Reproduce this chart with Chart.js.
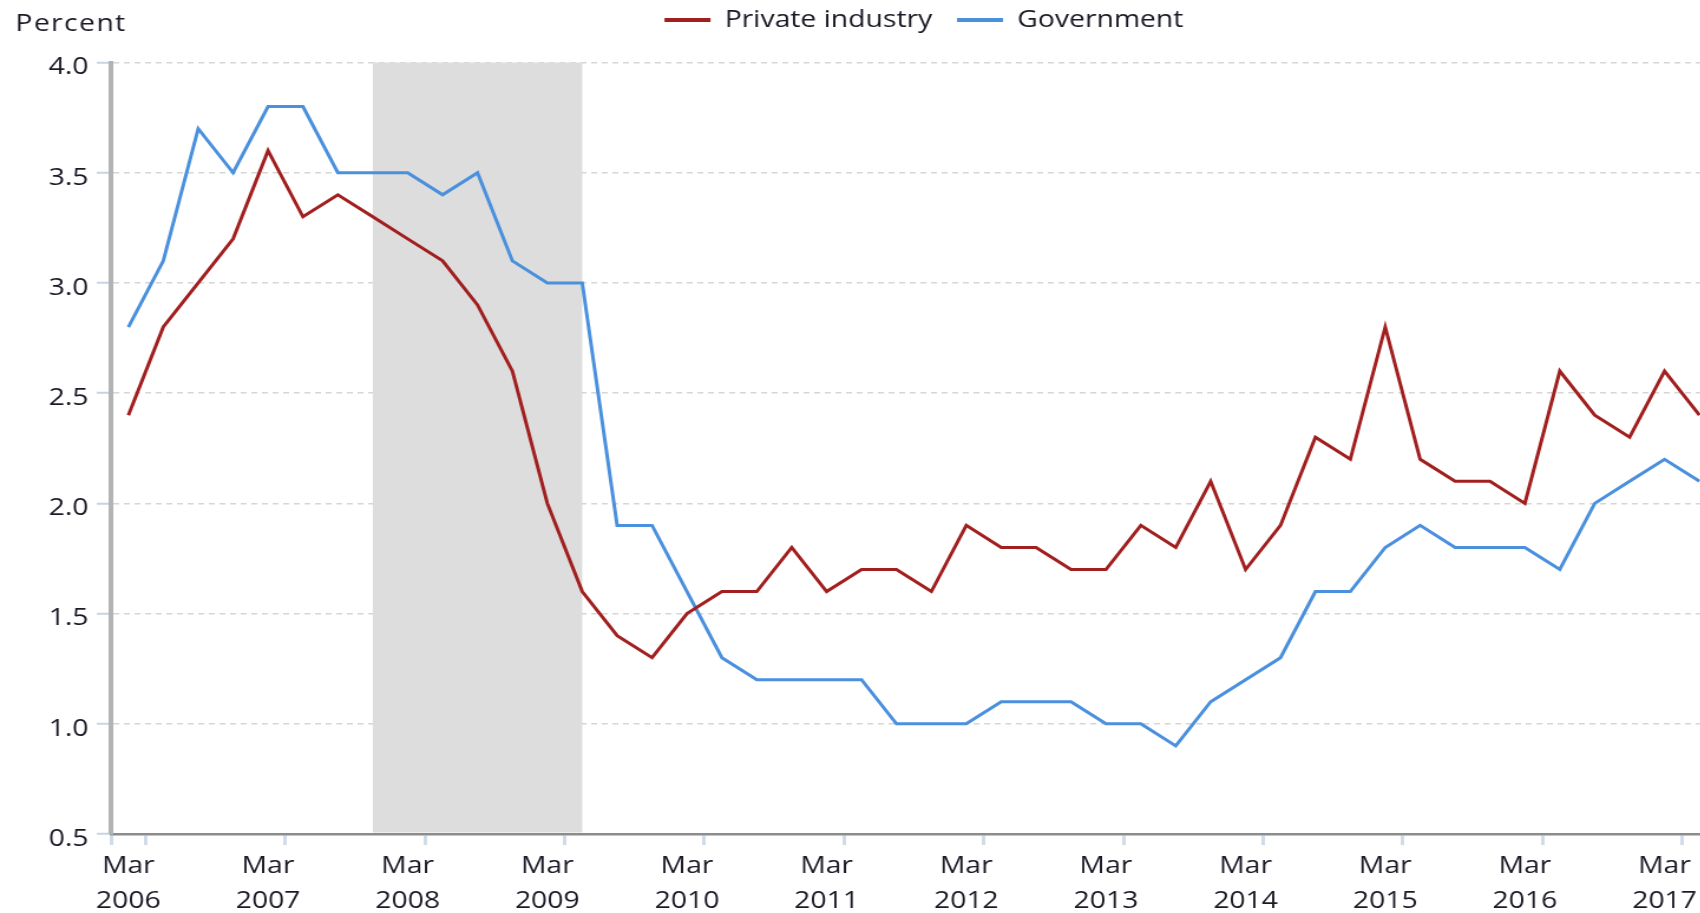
<!DOCTYPE html>
<html lang="en">
<head>
<meta charset="UTF-8">
<title>Private industry and Government</title>
<script src="https://cdn.jsdelivr.net/npm/chart.js@4.4.1/dist/chart.umd.min.js"></script>
<style>
    html, body {
        margin: 0;
        padding: 0;
        background: #fff;
        overflow: hidden;
    }
    /* the source picture is stretched sideways, so the whole chart is too */
    .stretch {
        width: 1455px;
        height: 913px;
        transform: scaleX(1.18);
        transform-origin: 0 0;
    }
</style>
</head>
<body>
<div class="stretch"><canvas id="chart" width="1455" height="913"></canvas></div>

<script>
const quarters = [
    'Mar 2006', 'Jun 2006', 'Sep 2006', 'Dec 2006',
    'Mar 2007', 'Jun 2007', 'Sep 2007', 'Dec 2007',
    'Mar 2008', 'Jun 2008', 'Sep 2008', 'Dec 2008',
    'Mar 2009', 'Jun 2009', 'Sep 2009', 'Dec 2009',
    'Mar 2010', 'Jun 2010', 'Sep 2010', 'Dec 2010',
    'Mar 2011', 'Jun 2011', 'Sep 2011', 'Dec 2011',
    'Mar 2012', 'Jun 2012', 'Sep 2012', 'Dec 2012',
    'Mar 2013', 'Jun 2013', 'Sep 2013', 'Dec 2013',
    'Mar 2014', 'Jun 2014', 'Sep 2014', 'Dec 2014',
    'Mar 2015', 'Jun 2015', 'Sep 2015', 'Dec 2015',
    'Mar 2016', 'Jun 2016', 'Sep 2016', 'Dec 2016',
    'Mar 2017', 'Jun 2017'
];

const privateIndustry = [
    2.4, 2.8, 3.0, 3.2,
    3.6, 3.3, 3.4, 3.3,
    3.2, 3.1, 2.9, 2.6,
    2.0, 1.6, 1.4, 1.3,
    1.5, 1.6, 1.6, 1.8,
    1.6, 1.7, 1.7, 1.6,
    1.9, 1.8, 1.8, 1.7,
    1.7, 1.9, 1.8, 2.1,
    1.7, 1.9, 2.3, 2.2,
    2.8, 2.2, 2.1, 2.1,
    2.0, 2.6, 2.4, 2.3,
    2.6, 2.4
];

const government = [
    2.8, 3.1, 3.7, 3.5,
    3.8, 3.8, 3.5, 3.5,
    3.5, 3.4, 3.5, 3.1,
    3.0, 3.0, 1.9, 1.9,
    1.6, 1.3, 1.2, 1.2,
    1.2, 1.2, 1.0, 1.0,
    1.0, 1.1, 1.1, 1.1,
    1.0, 1.0, 0.9, 1.1,
    1.2, 1.3, 1.6, 1.6,
    1.8, 1.9, 1.8, 1.8,
    1.8, 1.7, 2.0, 2.1,
    2.2, 2.1
];

// shaded recession band
const recession = ['Dec 2007', 'Jun 2009'];

const textColor = '#1a1a26';
const fontFamily = "'Open Sans', sans-serif";

// legend row sits a bit right of centre, plot starts well below it
const legendSpacing = {
    id: 'legendSpacing',
    beforeInit(chart) {
        const fit = chart.legend.fit;
        chart.legend.fit = function () {
            fit.call(this);
            this.height = 75.5;
        };
    },
    afterLayout(chart) {
        chart.legend.left += 8.5;
        chart.legend.right += 8.5;
    }
};

const recessionShade = {
    id: 'recessionShade',
    beforeDatasetsDraw(chart) {
        const {ctx, chartArea, scales: {x}} = chart;
        const x0 = x.getPixelForValue(quarters.indexOf(recession[0]));
        const x1 = x.getPixelForValue(quarters.indexOf(recession[1]));
        ctx.save();
        ctx.fillStyle = '#dddddd';
        ctx.fillRect(x0, chartArea.top, x1 - x0, chartArea.bottom - chartArea.top - 1.5);
        ctx.restore();
    }
};

const unitLabel = {
    id: 'unitLabel',
    afterDraw(chart) {
        const ctx = chart.ctx;
        ctx.save();
        ctx.font = '24px ' + fontFamily;
        ctx.letterSpacing = '1.2px';
        ctx.fillStyle = textColor;
        ctx.textBaseline = 'alphabetic';
        ctx.textAlign = 'left';
        ctx.fillText('Percent', 13, 31);
        ctx.restore();
    }
};

new Chart(document.getElementById('chart'), {
    type: 'line',
    data: {
        labels: quarters,
        datasets: [{
            label: 'Private industry',
            data: privateIndustry,
            borderColor: '#a21f1f',
            backgroundColor: '#a21f1f',
            borderWidth: 3,
            pointRadius: 0,
            tension: 0
        }, {
            label: 'Government',
            data: government,
            borderColor: '#4a90dd',
            backgroundColor: '#4a90dd',
            borderWidth: 3,
            pointRadius: 0,
            tension: 0
        }]
    },
    options: {
        responsive: false,
        animation: false,
        layout: {
            padding: {top: -13, left: 0, right: 0, bottom: 0}
        },
        plugins: {
            legend: {
                position: 'top',
                fullSize: false,
                labels: {
                    usePointStyle: true,
                    pointStyle: 'line',
                    pointStyleWidth: 39,
                    padding: 21,
                    color: textColor,
                    font: {family: fontFamily, size: 24},
                    generateLabels: chart => Chart.defaults.plugins.legend.labels.generateLabels(chart)
                        .map(item => Object.assign(item, {lineWidth: 4}))
                }
            },
            tooltip: {enabled: false}
        },
        scales: {
            x: {
                offset: true,
                grid: {
                    offset: true,
                    drawOnChartArea: false,
                    tickLength: 11,
                    tickWidth: 3,
                    tickColor: ctx => (ctx.index % 4 === 1 || ctx.index === 0) ? '#d0dbe8' : 'transparent'
                },
                border: {color: '#8c8c8c', width: 2.5},
                ticks: {
                    autoSkip: false,
                    maxRotation: 0,
                    minRotation: 0,
                    padding: 3.5,
                    color: textColor,
                    font: {family: fontFamily, size: 24, lineHeight: 1.47},
                    callback: (value, index) => {
                        const [month, year] = quarters[index].split(' ');
                        return month === 'Mar' ? [month, year] : '';
                    }
                },
                afterFit: scale => { scale.height = 79; }
            },
            y: {
                min: 0.5,
                max: 4.0,
                ticks: {
                    stepSize: 0.5,
                    padding: 7,
                    labelOffset: 5,
                    color: textColor,
                    font: {family: fontFamily, size: 24},
                    callback: v => v.toFixed(1)
                },
                grid: {
                    color: '#d6d6d6',
                    lineWidth: 1.5,
                    tickLength: 12,
                    tickWidth: 2,
                    tickColor: '#c6d4e6'
                },
                border: {color: '#b3b3b3', width: 4, dash: [5, 4]},
                afterFit: scale => { scale.width = 94; }
            }
        }
    },
    plugins: [legendSpacing, recessionShade, unitLabel]
});
</script>
</body>
</html>
